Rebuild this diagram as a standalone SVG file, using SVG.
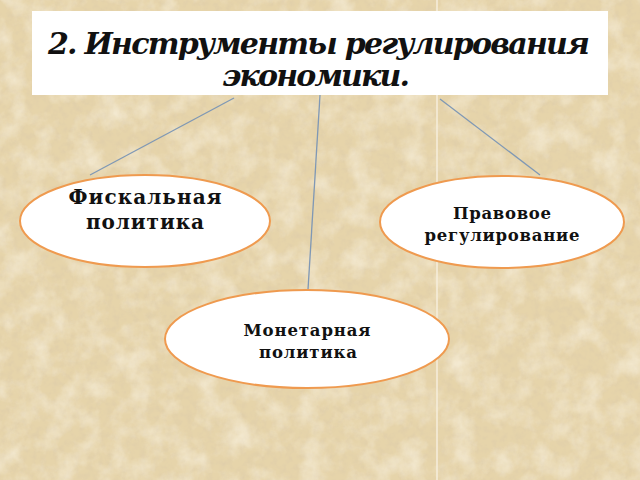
<svg xmlns="http://www.w3.org/2000/svg" width="640" height="480" viewBox="0 0 640 480">
<defs>
<filter id="tex" x="0" y="0" width="100%" height="100%">
<feTurbulence type="fractalNoise" baseFrequency="0.04" numOctaves="5" seed="7" result="n"/>
<feColorMatrix in="n" type="matrix" values="0 0 0 0 0.98  0 0 0 0 0.94  0 0 0 0 0.84  0 0 0 1.1 -0.45" result="c"/>
<feComposite in="c" in2="SourceGraphic" operator="in"/>
</filter>
<filter id="tex2" x="0" y="0" width="100%" height="100%">
<feTurbulence type="fractalNoise" baseFrequency="0.15" numOctaves="3" seed="11" result="n"/>
<feColorMatrix in="n" type="matrix" values="0 0 0 0 0.72  0 0 0 0 0.60  0 0 0 0 0.40  0 0 0 1.2 -0.5" result="c"/>
<feComposite in="c" in2="SourceGraphic" operator="in"/>
</filter>
<style>
.node ellipse{fill:#ffffff;stroke:#ef9a4f;stroke-width:2}
.lbl{font-family:"DejaVu Serif","Liberation Serif",serif;font-weight:bold;fill:#111;text-anchor:middle}
.conn line{stroke:#7f98b5;stroke-width:1.3}
</style>
</defs>
<rect width="640" height="480" fill="#e6d4aa"/>
<rect width="640" height="480" fill="#e6d4aa" filter="url(#tex2)"/>
<rect width="640" height="480" fill="#e6d4aa" filter="url(#tex)"/>
<line x1="437" y1="0" x2="437" y2="480" stroke="#f6eedc" stroke-width="1.5"/>
<g id="title">
<rect x="32" y="11" width="576" height="84" fill="#ffffff"/>
<text x="319" y="54" class="lbl" style="font-size:30px;font-style:italic" textLength="542">2. Инструменты регулирования</text>
<text x="316" y="86" class="lbl" style="font-size:30px;font-style:italic" textLength="188">экономики.</text>
</g>
<g class="conn" id="connectors">
<line x1="234" y1="98" x2="90" y2="175"/>
<line x1="320" y1="95" x2="308" y2="290"/>
<line x1="440" y1="99" x2="540" y2="175"/>
</g>
<g class="node" id="fiscal">
<ellipse cx="145" cy="221" rx="125" ry="46"/>
<text x="145" y="204" class="lbl" style="font-size:20px" textLength="153">Фискальная</text>
<text x="145" y="229" class="lbl" style="font-size:20px" textLength="118">политика</text>
</g>
<g class="node" id="legal">
<ellipse cx="502" cy="222" rx="122" ry="46"/>
<text x="502" y="219" class="lbl" style="font-size:16.5px" textLength="98">Правовое</text>
<text x="502" y="241" class="lbl" style="font-size:16.5px" textLength="155">регулирование</text>
</g>
<g class="node" id="monetary">
<ellipse cx="307" cy="339" rx="142" ry="49"/>
<text x="307" y="336" class="lbl" style="font-size:16.5px" textLength="127">Монетарная</text>
<text x="308" y="358" class="lbl" style="font-size:16.5px" textLength="98">политика</text>
</g>
</svg>
